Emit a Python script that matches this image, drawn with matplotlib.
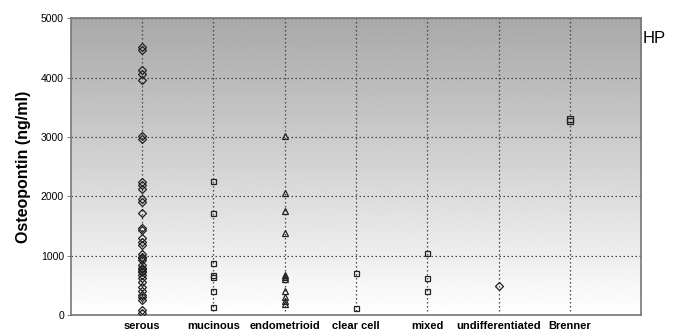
import numpy as np
import matplotlib.pyplot as plt

plt.rcParams['font.family'] = ['Liberation Sans', 'DejaVu Sans']

categories = ['serous', 'mucinous', 'endometrioid', 'clear cell', 'mixed',
              'undifferentiated', 'Brenner']

# osteopontin values per histological type (ng/ml)
serous = [4520, 4470, 4130, 4060, 3960, 3010, 2970, 2240, 2190, 2130, 1950, 1900,
          1710, 1470, 1440, 1290, 1230, 1180, 1030, 980, 960, 930, 840, 800, 780,
          740, 720, 680, 620, 560, 480, 400, 330, 300, 250, 90, 40]
mucinous = [2250, 1720, 870, 680, 640, 410, 140]
endometrioid = [3010, 2060, 1750, 1380, 680, 640, 600, 400, 300, 230, 180]
clear_cell = [710, 110]
mixed = [1050, 620, 400]
undifferentiated = [490]
brenner = [3300, 3270]

groups = [serous, mucinous, endometrioid, clear_cell, mixed, undifferentiated, brenner]
markers = ['D', 's', '^', 's', 's', 'D', 's']
sizes = [4.0, 3.6, 4.6, 3.6, 3.6, 4.0, 4.0]

fig = plt.figure(figsize=(6.75, 3.36), dpi=100)
ax = fig.add_axes([0.105, 0.0625, 0.845, 0.8835])

# grey gradient background, darker at the top
grad = np.linspace(0.66, 1.0, 256).reshape(-1, 1)
ax.imshow(grad, extent=[0, 1, 0, 1], transform=ax.transAxes, cmap='gray',
          vmin=0, vmax=1, aspect='auto', zorder=0, origin='upper')

for i, vals in enumerate(groups):
    x = np.full(len(vals), i + 1)
    ax.plot(x, vals, linestyle='none', marker=markers[i], markersize=sizes[i],
            markerfacecolor='none', markeredgecolor='#222222', markeredgewidth=0.9,
            zorder=3)

ax.set_xlim(0, 8)
ax.set_ylim(0, 5000)
ax.set_xticks(range(1, 8))
ax.set_xticklabels(categories, fontsize=8, fontweight='bold')
ax.set_yticks(range(0, 5001, 1000))
ax.set_yticklabels([str(v) for v in range(0, 5001, 1000)], fontsize=7.5)
ax.tick_params(axis='x', length=0, pad=4)
ax.tick_params(axis='y', length=3, width=0.6, pad=2, color='#666666')
ax.set_ylabel('Osteopontin (ng/ml)', fontsize=11.5, fontweight='bold', labelpad=7)

ax.grid(True, color='#444444', linestyle=(0, (1.2, 2)), linewidth=0.9, zorder=1)
ax.set_axisbelow(True)
for s in ax.spines.values():
    s.set_color('#777777')
    s.set_linewidth(1.2)

fig.text(0.952, 0.885, 'HP', fontsize=12, ha='left', va='center')

fig.savefig('out.png', dpi=100)
